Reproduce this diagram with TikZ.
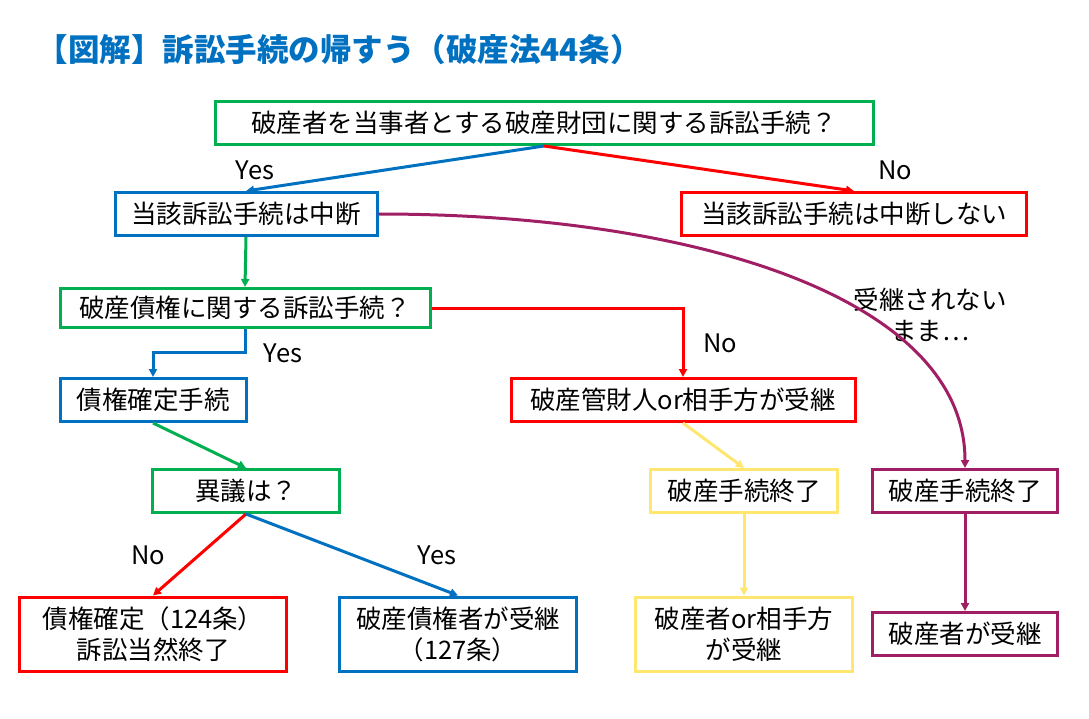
\documentclass[tikz,border=0pt]{standalone}
\usepackage{fontspec}
\setmainfont{Noto Sans CJK JP}
\usepackage{tikz}
\usetikzlibrary{calc, positioning, arrows.meta}
\definecolor{cgreen}{RGB}{0,176,80}
\definecolor{cblue}{RGB}{0,112,192}
\definecolor{cred}{RGB}{255,0,0}
\definecolor{cyellow}{RGB}{255,230,110}
\definecolor{cpurple}{RGB}{160,30,100}
\begin{document}
\begin{tikzpicture}[
  x=1pt, y=-1pt,
  box/.style={draw, line width=3pt, fill=white, minimum height=43pt, align=center, font=\fontsize{25.5}{31}\selectfont, inner xsep=4pt, inner ysep=2pt},
  lbl/.style={font=\fontsize{25.5}{31}\selectfont, align=center},
  arr/.style={-{Triangle[length=8pt,width=8pt]}, line width=3pt}
]
\useasboundingbox (0,0) rectangle (1089,719);
\node[anchor=west, text=cblue, font=\fontsize{31.5}{36}\selectfont\bfseries] (title) at (33,50) {【図解】訴訟手続の帰すう（破産法44条）};

\node (q1) [box, draw=cgreen, minimum width=658pt] at (544,123) {破産者を当事者とする破産財団に関する訴訟手続？};
\node (b1) [box, draw=cblue, minimum width=262pt] at (246,214) {当該訴訟手続は中断};
\node (b2) [box, draw=cred, minimum width=345pt] at (854,214) {当該訴訟手続は中断しない};
\node (q2) [box, draw=cgreen, minimum width=370pt, minimum height=39pt] at (245,308) {破産債権に関する訴訟手続？};
\node (b3) [box, draw=cblue, minimum width=186pt] at (153,400) {債権確定手続};
\node (b4) [box, draw=cred, minimum width=344pt] at (683,400) {破産管財人or相手方が受継};
\node (q3) [box, draw=cgreen, minimum width=187pt] at (246,491) {異議は？};
\node (b5) [box, draw=cyellow, minimum width=187pt] at (744,491) {破産手続終了};
\node (b6) [box, draw=cpurple, minimum width=185pt] at (965,491) {破産手続終了};
\node (b7) [box, draw=cred, minimum width=267pt, minimum height=74pt] at (153,634) {債権確定（124条）\\訴訟当然終了};
\node (b8) [box, draw=cblue, minimum width=237pt, minimum height=74pt] at (458,634) {破産債権者が受継\\（127条）};
\node (b9) [box, draw=cyellow, minimum width=217pt, minimum height=74pt] at (744,634) {破産者or相手方\\が受継};
\node (b10) [box, draw=cpurple, minimum width=185pt] at (965,634) {破産者が受継};

\node (yes1) [lbl] at (255,170) {Yes};
\node (no1) [lbl] at (895,170) {No};
\node (yes2) [lbl] at (283,353) {Yes};
\node (no2) [lbl] at (720,343) {No};
\node (nokeep) [lbl] at (930,315) {受継されない\\まま…};
\node (no3) [lbl] at (148,555) {No};
\node (yes3) [lbl] at (437,555) {Yes};

\draw[arr, cblue] (q1.south) -- (b1.north);
\draw[arr, cred] (q1.south) -- (b2.north);
\draw[arr, cgreen] (b1.south) -- (q2.north);
\draw[arr, cblue] (q2.south) |- (153,352) -- (b3.north);
\draw[arr, cred] (q2.east) -| (b4.north);
\draw[arr, cgreen] (b3.south) -- (q3.north);
\draw[arr, cyellow] (b4.south) -- (b5.north);
\draw[arr, cyellow] (b5.south) -- (b9.north);
\draw[arr, cred] (q3.south) -- (b7.north);
\draw[arr, cblue] (q3.south) -- (b8.north);
\draw[arr, cpurple] (b1.east) .. controls (700,214) and (965,300) .. (b6.north);
\draw[arr, cpurple] (b6.south) -- (b10.north);
\end{tikzpicture}
\end{document}
